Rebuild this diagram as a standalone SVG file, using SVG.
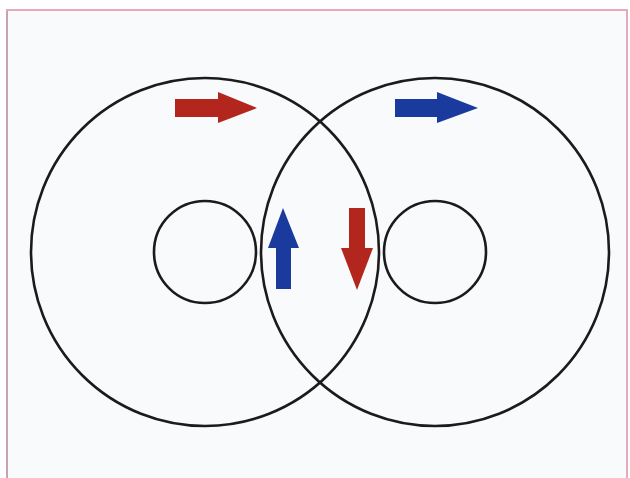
<svg xmlns="http://www.w3.org/2000/svg" width="630" height="478" viewBox="0 0 630 478">
<style>
.ring{fill:none;stroke:#1b1b1b;stroke-width:2.6}
.red{fill:#b3261d}
.blue{fill:#1b3a9e}
</style>
<rect x="0" y="0" width="630" height="478" fill="#ffffff"/>
<rect x="7" y="10" width="620" height="470" fill="#f8fafb" stroke="#e6a9bd" stroke-width="2"/>
<line x1="7" y1="11" x2="7" y2="478" stroke="#c7a3b2" stroke-width="2"/>
<g id="left-outer"><circle class="ring" cx="205" cy="252" r="174"/></g>
<g id="right-outer"><circle class="ring" cx="435" cy="252" r="174"/></g>
<g id="left-inner"><circle class="ring" cx="205" cy="252" r="51"/></g>
<g id="right-inner"><circle class="ring" cx="435" cy="252" r="51"/></g>
<g id="arrows">
<polygon class="red" points="175,99 218,99 218,92 257,108 218,123 218,117 175,117"/>
<polygon class="blue" points="395,99 437,99 437,92 478,108 437,123 437,117 395,117"/>
<polygon class="blue" points="276,289 276,248 268,248 283,208 299,248 291,248 291,289"/>
<polygon class="red" points="349,208 365,208 365,248 373,248 357,290 341,248 349,248"/>
</g>
</svg>
